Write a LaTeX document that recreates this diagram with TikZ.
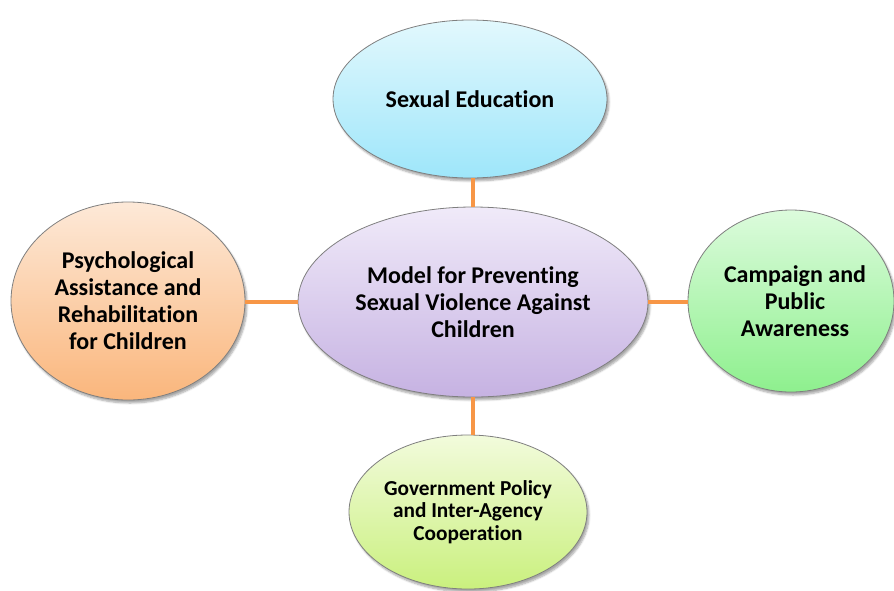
\documentclass[tikz,border=0pt]{standalone}
\usepackage{fontspec}
\setmainfont{Carlito}[Ligatures=NoCommon]
\usetikzlibrary{shapes.geometric,shadows.blur}
\definecolor{linkorange}{HTML}{F79646}
\definecolor{edgegray}{HTML}{7F7F7F}
\definecolor{blueT}{HTML}{E2F8FD}
\definecolor{blueB}{HTML}{9EE6FA}
\definecolor{purpleT}{HTML}{F0EAF9}
\definecolor{purpleB}{HTML}{C6B2E2}
\definecolor{orangeT}{HTML}{FDE9D8}
\definecolor{orangeB}{HTML}{FAB67C}
\definecolor{greenT}{HTML}{DCFBDC}
\definecolor{greenB}{HTML}{8EF08E}
\definecolor{limeT}{HTML}{F2FBDC}
\definecolor{limeB}{HTML}{CAF07E}
\begin{document}
\begin{tikzpicture}[x=1pt,y=-1pt,
  bubble/.style={ellipse, draw=edgegray, line width=0.8pt, inner sep=-4pt,
    font=\bfseries\fontsize{24}{27}\selectfont, align=center,
    blur shadow={shadow xshift=2pt, shadow yshift=-3pt, shadow blur steps=6, shadow opacity=35}},
  link/.style={draw=linkorange, line width=4pt}]
\useasboundingbox (0,0) rectangle (894,590);
\node[bubble, minimum width=274pt, minimum height=158pt, top color=blueT, bottom color=blueB] (edu) at (470,99) {Sexual Education};
\node[bubble, minimum width=350pt, minimum height=190pt, top color=purpleT, bottom color=purpleB] (model) at (473,302) {Model for Preventing\\Sexual Violence Against\\Children};
\node[bubble, minimum width=234pt, minimum height=198pt, top color=orangeT, bottom color=orangeB] (psych) at (128,301) {Psychological\\Assistance and\\Rehabilitation\\for Children};
\node[bubble, minimum width=206pt, minimum height=182pt, top color=greenT, bottom color=greenB] (camp) at (791,301) {\hspace*{8pt}Campaign and\\\hspace*{8pt}Public\\\hspace*{8pt}Awareness};
\node[bubble, minimum width=238pt, minimum height=154pt, top color=limeT, bottom color=limeB, font=\bfseries\fontsize{21.3}{22.8}\selectfont] (gov) at (468,512) {Government Policy\\and Inter-Agency\\Cooperation};
\draw[link] (model.north) -- (model.north |- edu.south);
\draw[link] (model.south) -- (model.south |- gov.north);
\draw[link] (model.west) -- (model.west -| psych.east);
\draw[link] (model.east) -- (model.east -| camp.west);
\end{tikzpicture}
\end{document}
